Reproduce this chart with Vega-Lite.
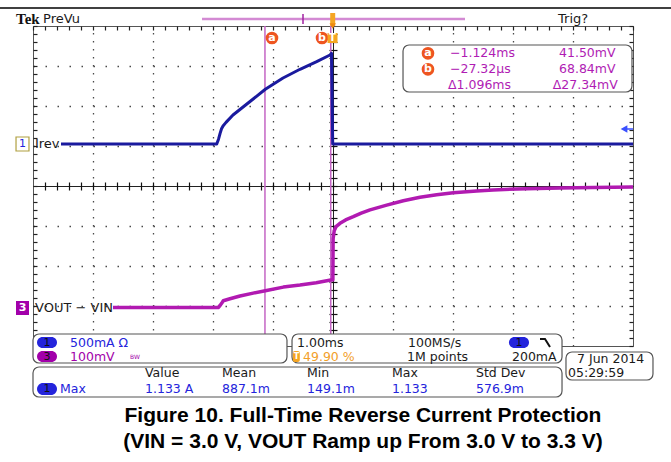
{
  "$schema": "https://vega.github.io/schema/vega-lite/v6.json",
  "width": 600,
  "height": 320,
  "autosize": {"type": "none"},
  "padding": {"left": 33, "top": 26, "right": 38, "bottom": 116},
  "background": "white",
  "config": {
    "view": {"stroke": "#555555", "strokeWidth": 1},
    "text": {"font": "DejaVu Sans", "fontSize": 13}
  },
  "datasets": {
    "irev": [
      {"t": -4.523, "I": 0}, {"t": -1.928, "I": 0}, {"t": -1.898, "I": 0.06}, {"t": -1.873, "I": 0.13},
      {"t": -1.848, "I": 0.19}, {"t": -1.823, "I": 0.225}, {"t": -1.773, "I": 0.27}, {"t": -1.657, "I": 0.3625},
      {"t": -1.373, "I": 0.531}, {"t": -1.118, "I": 0.684}, {"t": -0.823, "I": 0.825}, {"t": -0.54, "I": 0.934},
      {"t": -0.262, "I": 1.029}, {"t": -0.04, "I": 1.1125}, {"t": -0.015, "I": 1.133}, {"t": 0.005, "I": 0},
      {"t": 5.01, "I": 0}
    ],
    "vout": [
      {"t": -3.657, "V": 0}, {"t": -1.902, "V": 0}, {"t": -1.873, "V": 5}, {"t": -1.84, "V": 12},
      {"t": -1.818, "V": 17}, {"t": -1.707, "V": 22}, {"t": -1.54, "V": 28.75}, {"t": -1.32, "V": 36},
      {"t": -1.118, "V": 42}, {"t": -0.818, "V": 51}, {"t": -0.54, "V": 56}, {"t": -0.27, "V": 62},
      {"t": -0.027, "V": 68.84}, {"t": 0.008, "V": 69}, {"t": 0.012, "V": 172}, {"t": 0.03, "V": 192},
      {"t": 0.06, "V": 202}, {"t": 0.127, "V": 210.5}, {"t": 0.22, "V": 219}, {"t": 0.348, "V": 227},
      {"t": 0.48, "V": 236}, {"t": 0.627, "V": 244}, {"t": 0.905, "V": 256}, {"t": 1.182, "V": 267},
      {"t": 1.46, "V": 275.5}, {"t": 1.738, "V": 282}, {"t": 2.015, "V": 287}, {"t": 2.405, "V": 291},
      {"t": 2.677, "V": 294}, {"t": 3.238, "V": 297}, {"t": 3.792, "V": 299}, {"t": 4.343, "V": 300},
      {"t": 5.01, "V": 301}
    ],
    "cursors": [{"cursor": "a", "t": -1.124}, {"cursor": "b", "t": -0.02732}],
    "boxes": [
      {"t": 1.177, "t2": 4.993, "d": 3.525, "d2": 2.35},
      {"t": -4.99, "t2": -0.757, "d": -3.7, "d2": -4.425},
      {"t": -0.673, "t2": 3.827, "d": -3.7, "d2": -4.425},
      {"t": 3.893, "t2": 5.343, "d": -4.15, "d2": -4.85},
      {"t": -4.99, "t2": 3.827, "d": -4.525, "d2": -5.275}
    ],
    "plain": [
      {"label": "PreVu", "t": -4.823, "d": 4.175},
      {"label": "Trig?", "t": 3.76, "d": 4.175},
      {"label": "Irev", "t": -4.957, "d": 1.05},
      {"label": "VOUT − VIN", "t": -4.957, "d": -3.05}
    ],
    "readout": [
      {"label": "1.00ms", "t": -0.59, "d": -3.9125},
      {"label": "100MS/s", "t": 1.26, "d": -3.9125},
      {"label": "1M points", "t": 1.243, "d": -4.2625},
      {"label": "200mA", "t": 2.993, "d": -4.2625},
      {"label": "7 Jun 2014", "t": 4.077, "d": -4.325},
      {"label": "05:29:59", "t": 3.927, "d": -4.675},
      {"label": "Value", "t": -3.123, "d": -4.675},
      {"label": "Mean", "t": -1.84, "d": -4.675},
      {"label": "Min", "t": -0.423, "d": -4.675},
      {"label": "Max", "t": 0.993, "d": -4.675},
      {"label": "Std Dev", "t": 2.393, "d": -4.675}
    ],
    "colored": [
      {"label": "500mA Ω", "t": -4.373, "d": -3.9125, "ch": "ch1"},
      {"label": "100mV", "t": -4.373, "d": -4.2625, "ch": "ch3"},
      {"label": "−1.124ms", "t": 1.96, "d": 3.3175, "ch": "cur"},
      {"label": "−27.32µs", "t": 1.96, "d": 2.9175, "ch": "cur"},
      {"label": "Δ1.096ms", "t": 1.927, "d": 2.525, "ch": "cur"},
      {"label": "41.50mV", "t": 3.777, "d": 3.3175, "ch": "cur"},
      {"label": "68.84mV", "t": 3.777, "d": 2.9175, "ch": "cur"},
      {"label": "Δ27.34mV", "t": 3.672, "d": 2.525, "ch": "cur"},
      {"label": "49.90 %", "t": -0.49, "d": -4.2625, "ch": "trig"},
      {"label": "Max", "t": -4.54, "d": -5.075, "ch": "ch1"},
      {"label": "1.133 A", "t": -3.123, "d": -5.075, "ch": "ch1"},
      {"label": "887.1m", "t": -1.84, "d": -5.075, "ch": "ch1"},
      {"label": "149.1m", "t": -0.423, "d": -5.075, "ch": "ch1"},
      {"label": "1.133", "t": 0.993, "d": -5.075, "ch": "ch1"},
      {"label": "576.9m", "t": 2.393, "d": -5.075, "ch": "ch1"}
    ],
    "bw": [{"label": "BW", "t": -3.373, "d": -4.28, "ch": "ch3"}],
    "pills": [
      {"ch": "ch1", "label": "1", "t": -4.923, "t2": -4.59, "d": -3.775, "d2": -4.05, "tc": -4.757, "dc": -3.9125},
      {"ch": "ch3", "label": "3", "t": -4.923, "t2": -4.59, "d": -4.125, "d2": -4.4, "tc": -4.757, "dc": -4.2625},
      {"ch": "ch1", "label": "1", "t": 2.943, "t2": 3.277, "d": -3.775, "d2": -4.05, "tc": 3.11, "dc": -3.9125},
      {"ch": "ch1", "label": "1", "t": -4.923, "t2": -4.59, "d": -4.925, "d2": -5.225, "tc": -4.757, "dc": -5.075}
    ],
    "trigbox": [{"label": "T", "t": -0.66, "t2": -0.543, "d": -4.125, "d2": -4.4, "tc": -0.6, "dc": -4.2625}],
    "cursorTags": [
      {"label": "a", "t": -1.007, "d": 3.7},
      {"label": "b", "t": -0.173, "d": 3.7},
      {"label": "a", "t": 1.593, "d": 3.3175},
      {"label": "b", "t": 1.593, "d": 2.9175}
    ],
    "trigTag": [{"label": "T", "t": 0.002, "d": 3.7}],
    "pageLine": [{"t": -5.54, "t2": 5.645, "d": 4.45}],
    "recordBar": [{"t": -2.173, "t2": 2.21, "d": 4.175}],
    "recordTick": [{"t": -0.49, "d": 4.3, "d2": 4.05}],
    "trigMark": [{"t": 0.005, "d": 4.325, "d2": 4.0}],
    "ch1Marker": [{"label": "1", "t": -5.273, "t2": -5.057, "d": 1.225, "d2": 0.875, "tc": -5.165, "dc": 1.05}],
    "ch3Marker": [{"label": "3", "t": -5.273, "t2": -5.057, "d": -2.875, "d2": -3.225, "tc": -5.165, "dc": -3.05}],
    "slope": [{"t": 3.46, "d": -3.825}, {"t": 3.543, "d": -3.825}, {"t": 3.627, "d": -4.025}],
    "trigLevel": [{"t": 4.86, "t2": 5.01, "d": 1.425}],
    "logo": [{"label": "Tek", "t": -5.273, "d": 4.175}],
    "caption": [
      {"label": "Figure 10. Full-Time Reverse Current Protection", "t": 0.51, "d": -5.75},
      {"label": "(VIN = 3.0 V, VOUT Ramp up From 3.0 V to 3.3 V)", "t": 0.51, "d": -6.4}
    ]
  },
  "resolve": {"scale": {"y": "independent"}, "axis": {"x": "independent", "y": "independent"}},
  "layer": [
    {
      "data": {"name": "cursors"},
      "mark": {"type": "rule", "color": "#c465c4", "strokeWidth": 1.5},
      "encoding": {
        "x": {"field": "t", "type": "quantitative", "scale": {"domain": [-4.99, 5.01], "nice": false, "zero": false},
          "axis": {"orient": "bottom", "values": [-3.99, -2.99, -1.99, -0.99, 1.01, 2.01, 3.01, 4.01],
            "grid": true, "ticks": false, "labels": false, "domain": false, "title": null,
            "gridWidth": 1.3, "gridOpacity": 1, "gridColor": "#4a4a4a", "gridDash": [1.5, 6.5]}}
      }
    },
    {
      "data": {"name": "irev"},
      "mark": {"type": "line", "color": "#1a1a9e", "strokeWidth": 3, "strokeJoin": "round"},
      "encoding": {
        "x": {"field": "t", "type": "quantitative", "scale": {"domain": [-4.99, 5.01], "nice": false, "zero": false},
          "axis": {"orient": "top", "offset": -4, "tickSize": 4, "tickWidth": 1.2, "tickColor": "#222222", "tickOpacity": 1, "ticks": true, "grid": false, "labels": false, "domain": false, "title": null,
            "values": [-4.99,-4.79,-4.59,-4.39,-4.19,-3.99,-3.79,-3.59,-3.39,-3.19,-2.99,-2.79,-2.59,-2.39,-2.19,-1.99,-1.79,-1.59,-1.39,-1.19,-0.99,-0.79,-0.59,-0.39,-0.19,0.01,0.21,0.41,0.61,0.81,1.01,1.21,1.41,1.61,1.81,2.01,2.21,2.41,2.61,2.81,3.01,3.21,3.41,3.61,3.81,4.01,4.21,4.41,4.61,4.81,5.01]}},
        "y": {"field": "I", "type": "quantitative", "scale": {"domain": [-2.525, 1.475], "nice": false, "zero": false},
          "axis": {"orient": "left", "values": [0.975, 0.475, -0.025, -1.025, -1.525, -2.025],
            "grid": true, "ticks": false, "labels": false, "domain": false, "title": null,
            "gridWidth": 1.3, "gridOpacity": 1, "gridColor": "#4a4a4a", "gridDash": [1.5, 10.5]}}
      }
    },
    {
      "data": {"name": "vout"},
      "mark": {"type": "line", "color": "#b11ab1", "strokeWidth": 3.5, "strokeJoin": "round"},
      "encoding": {
        "x": {"field": "t", "type": "quantitative", "scale": {"domain": [-4.99, 5.01], "nice": false, "zero": false},
          "axis": {"orient": "bottom", "offset": -164, "tickSize": 8, "tickWidth": 1.2, "tickColor": "#111111", "tickOpacity": 1, "ticks": true, "grid": false, "labels": false, "domain": false, "title": null,
            "values": [-4.79,-4.59,-4.39,-4.19,-3.99,-3.79,-3.59,-3.39,-3.19,-2.99,-2.79,-2.59,-2.39,-2.19,-1.99,-1.79,-1.59,-1.39,-1.19,-0.99,-0.79,-0.59,-0.39,-0.19,0.01,0.21,0.41,0.61,0.81,1.01,1.21,1.41,1.61,1.81,2.01,2.21,2.41,2.61,2.81,3.01,3.21,3.41,3.61,3.81,4.01,4.21,4.41,4.61,4.81]}},
        "y": {"field": "V", "type": "quantitative", "scale": {"domain": [-96.25, 703.75], "nice": false, "zero": false}, "axis": null}
      }
    },
    {
      "data": {"name": "boxes"},
      "mark": {"type": "rect", "fill": "white", "stroke": "#555555", "strokeWidth": 1.2, "cornerRadius": 6},
      "encoding": {
        "x": {"field": "t", "type": "quantitative", "scale": {"domain": [-4.99, 5.01], "nice": false, "zero": false}, "axis": null},
        "x2": {"field": "t2"},
        "y": {"field": "d", "type": "quantitative", "scale": {"domain": [-4, 4], "nice": false, "zero": false},
          "axis": {"orient": "left", "offset": -4, "tickSize": 4, "tickWidth": 1.2, "tickColor": "#222222", "tickOpacity": 1, "ticks": true, "grid": false, "labels": false, "domain": false, "title": null,
            "values": [-4,-3.8,-3.6,-3.4,-3.2,-3,-2.8,-2.6,-2.4,-2.2,-2,-1.8,-1.6,-1.4,-1.2,-1,-0.8,-0.6,-0.4,-0.2,0,0.2,0.4,0.6,0.8,1,1.2,1.4,1.6,1.8,2,2.2,2.4,2.6,2.8,3,3.2,3.4,3.6,3.8,4]}},
        "y2": {"field": "d2"}
      }
    },
    {
      "data": {"name": "plain"},
      "mark": {"type": "text", "align": "left", "baseline": "middle", "color": "#1a1a1a", "font": "DejaVu Sans", "fontSize": 13},
      "encoding": {
        "x": {"field": "t", "type": "quantitative", "scale": {"domain": [-4.99, 5.01], "nice": false, "zero": false}, "axis": null},
        "y": {"field": "d", "type": "quantitative", "scale": {"domain": [-4, 4], "nice": false, "zero": false},
          "axis": {"orient": "right", "offset": -4, "tickSize": 4, "tickWidth": 1.2, "tickColor": "#222222", "tickOpacity": 1, "ticks": true, "grid": false, "labels": false, "domain": false, "title": null,
            "values": [-4,-3.8,-3.6,-3.4,-3.2,-3,-2.8,-2.6,-2.4,-2.2,-2,-1.8,-1.6,-1.4,-1.2,-1,-0.8,-0.6,-0.4,-0.2,0,0.2,0.4,0.6,0.8,1,1.2,1.4,1.6,1.8,2,2.2,2.4,2.6,2.8,3,3.2,3.4,3.6,3.8,4]}},
        "text": {"field": "label"}
      }
    },
    {
      "data": {"name": "readout"},
      "mark": {"type": "text", "align": "left", "baseline": "middle", "color": "#1a1a1a", "font": "DejaVu Sans", "fontSize": 12.5},
      "encoding": {
        "x": {"field": "t", "type": "quantitative", "scale": {"domain": [-4.99, 5.01], "nice": false, "zero": false},
          "axis": {"orient": "bottom", "values": [0.01], "grid": true, "ticks": false, "labels": false, "domain": false, "title": null,
            "gridWidth": 1, "gridOpacity": 1, "gridColor": "#222222"}},
        "y": {"field": "d", "type": "quantitative", "scale": {"domain": [-4, 4], "nice": false, "zero": false},
          "axis": {"orient": "left", "values": [0], "grid": true, "ticks": false, "labels": false, "domain": false, "title": null,
            "gridWidth": 1, "gridOpacity": 1, "gridColor": "#222222"}},
        "text": {"field": "label"}
      }
    },
    {
      "data": {"name": "colored"},
      "mark": {"type": "text", "align": "left", "baseline": "middle", "font": "DejaVu Sans", "fontSize": 12.5},
      "encoding": {
        "x": {"field": "t", "type": "quantitative", "scale": {"domain": [-4.99, 5.01], "nice": false, "zero": false}, "axis": null},
        "y": {"field": "d", "type": "quantitative", "scale": {"domain": [-4, 4], "nice": false, "zero": false},
          "axis": {"orient": "right", "offset": -304, "tickSize": 8, "tickWidth": 1.2, "tickColor": "#111111", "tickOpacity": 1, "ticks": true, "grid": false, "labels": false, "domain": false, "title": null,
            "values": [-3.8,-3.6,-3.4,-3.2,-3,-2.8,-2.6,-2.4,-2.2,-2,-1.8,-1.6,-1.4,-1.2,-1,-0.8,-0.6,-0.4,-0.2,0,0.2,0.4,0.6,0.8,1,1.2,1.4,1.6,1.8,2,2.2,2.4,2.6,2.8,3,3.2,3.4,3.6,3.8]}},
        "color": {"field": "ch", "type": "nominal", "scale": {"domain": ["ch1", "ch3", "cur", "trig"], "range": ["#2424dc", "#a200aa", "#b01cb4", "#f2a02a"]}, "legend": null},
        "text": {"field": "label"}
      }
    },
    {
      "data": {"name": "bw"},
      "mark": {"type": "text", "align": "left", "baseline": "middle", "font": "DejaVu Sans", "fontSize": 6},
      "encoding": {
        "x": {"field": "t", "type": "quantitative", "scale": {"domain": [-4.99, 5.01], "nice": false, "zero": false}, "axis": null},
        "y": {"field": "d", "type": "quantitative", "scale": {"domain": [-4, 4], "nice": false, "zero": false}, "axis": null},
        "color": {"field": "ch", "type": "nominal", "scale": {"domain": ["ch1", "ch3", "cur", "trig"], "range": ["#2424dc", "#a200aa", "#b01cb4", "#f2a02a"]}, "legend": null},
        "text": {"field": "label"}
      }
    },
    {
      "data": {"name": "pills"},
      "mark": {"type": "rect", "cornerRadius": 6},
      "encoding": {
        "x": {"field": "t", "type": "quantitative", "scale": {"domain": [-4.99, 5.01], "nice": false, "zero": false}, "axis": null},
        "x2": {"field": "t2"},
        "y": {"field": "d", "type": "quantitative", "scale": {"domain": [-4, 4], "nice": false, "zero": false}, "axis": null},
        "y2": {"field": "d2"},
        "color": {"field": "ch", "type": "nominal", "scale": {"domain": ["ch1", "ch3", "cur", "trig"], "range": ["#2424dc", "#a200aa", "#b01cb4", "#f2a02a"]}, "legend": null}
      }
    },
    {
      "data": {"name": "pills"},
      "mark": {"type": "text", "align": "center", "baseline": "middle", "color": "#111111", "font": "DejaVu Sans", "fontSize": 11},
      "encoding": {
        "x": {"field": "tc", "type": "quantitative", "scale": {"domain": [-4.99, 5.01], "nice": false, "zero": false}, "axis": null},
        "y": {"field": "dc", "type": "quantitative", "scale": {"domain": [-4, 4], "nice": false, "zero": false}, "axis": null},
        "text": {"field": "label"}
      }
    },
    {
      "data": {"name": "trigbox"},
      "mark": {"type": "rect", "cornerRadius": 2, "color": "#f5a623"},
      "encoding": {
        "x": {"field": "t", "type": "quantitative", "scale": {"domain": [-4.99, 5.01], "nice": false, "zero": false}, "axis": null},
        "x2": {"field": "t2"},
        "y": {"field": "d", "type": "quantitative", "scale": {"domain": [-4, 4], "nice": false, "zero": false}, "axis": null},
        "y2": {"field": "d2"}
      }
    },
    {
      "data": {"name": "trigbox"},
      "mark": {"type": "text", "align": "center", "baseline": "middle", "color": "white", "font": "DejaVu Sans", "fontSize": 8, "fontWeight": "bold"},
      "encoding": {
        "x": {"field": "tc", "type": "quantitative", "scale": {"domain": [-4.99, 5.01], "nice": false, "zero": false}, "axis": null},
        "y": {"field": "dc", "type": "quantitative", "scale": {"domain": [-4, 4], "nice": false, "zero": false}, "axis": null},
        "text": {"field": "label"}
      }
    },
    {
      "data": {"name": "pageLine"},
      "mark": {"type": "rule", "color": "#000000", "strokeWidth": 1.5},
      "encoding": {
        "x": {"field": "t", "type": "quantitative", "scale": {"domain": [-4.99, 5.01], "nice": false, "zero": false}, "axis": null},
        "x2": {"field": "t2"},
        "y": {"field": "d", "type": "quantitative", "scale": {"domain": [-4, 4], "nice": false, "zero": false}, "axis": null}
      }
    },
    {
      "data": {"name": "recordBar"},
      "mark": {"type": "rule", "color": "#d38ad3", "strokeWidth": 2.5},
      "encoding": {
        "x": {"field": "t", "type": "quantitative", "scale": {"domain": [-4.99, 5.01], "nice": false, "zero": false}, "axis": null},
        "x2": {"field": "t2"},
        "y": {"field": "d", "type": "quantitative", "scale": {"domain": [-4, 4], "nice": false, "zero": false}, "axis": null}
      }
    },
    {
      "data": {"name": "recordTick"},
      "mark": {"type": "rule", "color": "#a020a0", "strokeWidth": 1.5},
      "encoding": {
        "x": {"field": "t", "type": "quantitative", "scale": {"domain": [-4.99, 5.01], "nice": false, "zero": false}, "axis": null},
        "y": {"field": "d", "type": "quantitative", "scale": {"domain": [-4, 4], "nice": false, "zero": false}, "axis": null},
        "y2": {"field": "d2"}
      }
    },
    {
      "data": {"name": "trigMark"},
      "mark": {"type": "rule", "color": "#f5a623", "strokeWidth": 5},
      "encoding": {
        "x": {"field": "t", "type": "quantitative", "scale": {"domain": [-4.99, 5.01], "nice": false, "zero": false}, "axis": null},
        "y": {"field": "d", "type": "quantitative", "scale": {"domain": [-4, 4], "nice": false, "zero": false}, "axis": null},
        "y2": {"field": "d2"}
      }
    },
    {
      "data": {"name": "trigMark"},
      "mark": {"type": "point", "shape": "triangle-down", "filled": true, "color": "#f08a10", "size": 40, "opacity": 1},
      "encoding": {
        "x": {"field": "t", "type": "quantitative", "scale": {"domain": [-4.99, 5.01], "nice": false, "zero": false}, "axis": null},
        "y": {"field": "d2", "type": "quantitative", "scale": {"domain": [-4, 4], "nice": false, "zero": false}, "axis": null}
      }
    },
    {
      "data": {"name": "cursorTags"},
      "mark": {"type": "point", "shape": "circle", "filled": true, "color": "#ee5520", "size": 160, "opacity": 1},
      "encoding": {
        "x": {"field": "t", "type": "quantitative", "scale": {"domain": [-4.99, 5.01], "nice": false, "zero": false}, "axis": null},
        "y": {"field": "d", "type": "quantitative", "scale": {"domain": [-4, 4], "nice": false, "zero": false}, "axis": null}
      }
    },
    {
      "data": {"name": "cursorTags"},
      "mark": {"type": "text", "align": "center", "baseline": "middle", "color": "white", "font": "DejaVu Sans", "fontSize": 11, "fontWeight": "bold"},
      "encoding": {
        "x": {"field": "t", "type": "quantitative", "scale": {"domain": [-4.99, 5.01], "nice": false, "zero": false}, "axis": null},
        "y": {"field": "d", "type": "quantitative", "scale": {"domain": [-4, 4], "nice": false, "zero": false}, "axis": null},
        "text": {"field": "label"}
      }
    },
    {
      "data": {"name": "trigTag"},
      "mark": {"type": "point", "shape": "square", "filled": true, "color": "#f5a623", "size": 100, "opacity": 1},
      "encoding": {
        "x": {"field": "t", "type": "quantitative", "scale": {"domain": [-4.99, 5.01], "nice": false, "zero": false}, "axis": null},
        "y": {"field": "d", "type": "quantitative", "scale": {"domain": [-4, 4], "nice": false, "zero": false}, "axis": null}
      }
    },
    {
      "data": {"name": "trigTag"},
      "mark": {"type": "text", "align": "center", "baseline": "middle", "color": "white", "font": "DejaVu Sans", "fontSize": 10, "fontWeight": "bold"},
      "encoding": {
        "x": {"field": "t", "type": "quantitative", "scale": {"domain": [-4.99, 5.01], "nice": false, "zero": false}, "axis": null},
        "y": {"field": "d", "type": "quantitative", "scale": {"domain": [-4, 4], "nice": false, "zero": false}, "axis": null},
        "text": {"field": "label"}
      }
    },
    {
      "data": {"name": "ch1Marker"},
      "mark": {"type": "rect", "fill": "white", "stroke": "#b0a040", "strokeWidth": 1.2},
      "encoding": {
        "x": {"field": "t", "type": "quantitative", "scale": {"domain": [-4.99, 5.01], "nice": false, "zero": false}, "axis": null},
        "x2": {"field": "t2"},
        "y": {"field": "d", "type": "quantitative", "scale": {"domain": [-4, 4], "nice": false, "zero": false}, "axis": null},
        "y2": {"field": "d2"}
      }
    },
    {
      "data": {"name": "ch1Marker"},
      "mark": {"type": "text", "align": "center", "baseline": "middle", "color": "#2424dc", "font": "DejaVu Sans", "fontSize": 11},
      "encoding": {
        "x": {"field": "tc", "type": "quantitative", "scale": {"domain": [-4.99, 5.01], "nice": false, "zero": false}, "axis": null},
        "y": {"field": "dc", "type": "quantitative", "scale": {"domain": [-4, 4], "nice": false, "zero": false}, "axis": null},
        "text": {"field": "label"}
      }
    },
    {
      "data": {"name": "ch3Marker"},
      "mark": {"type": "rect", "fill": "#a200aa"},
      "encoding": {
        "x": {"field": "t", "type": "quantitative", "scale": {"domain": [-4.99, 5.01], "nice": false, "zero": false}, "axis": null},
        "x2": {"field": "t2"},
        "y": {"field": "d", "type": "quantitative", "scale": {"domain": [-4, 4], "nice": false, "zero": false}, "axis": null},
        "y2": {"field": "d2"}
      }
    },
    {
      "data": {"name": "ch3Marker"},
      "mark": {"type": "text", "align": "center", "baseline": "middle", "color": "white", "font": "DejaVu Sans", "fontSize": 11, "fontWeight": "bold"},
      "encoding": {
        "x": {"field": "tc", "type": "quantitative", "scale": {"domain": [-4.99, 5.01], "nice": false, "zero": false}, "axis": null},
        "y": {"field": "dc", "type": "quantitative", "scale": {"domain": [-4, 4], "nice": false, "zero": false}, "axis": null},
        "text": {"field": "label"}
      }
    },
    {
      "data": {"name": "slope"},
      "mark": {"type": "line", "color": "#111111", "strokeWidth": 2},
      "encoding": {
        "x": {"field": "t", "type": "quantitative", "scale": {"domain": [-4.99, 5.01], "nice": false, "zero": false}, "axis": null},
        "y": {"field": "d", "type": "quantitative", "scale": {"domain": [-4, 4], "nice": false, "zero": false}, "axis": null}
      }
    },
    {
      "data": {"name": "trigLevel"},
      "mark": {"type": "rule", "color": "#3a50ff", "strokeWidth": 1.5},
      "encoding": {
        "x": {"field": "t", "type": "quantitative", "scale": {"domain": [-4.99, 5.01], "nice": false, "zero": false}, "axis": null},
        "x2": {"field": "t2"},
        "y": {"field": "d", "type": "quantitative", "scale": {"domain": [-4, 4], "nice": false, "zero": false}, "axis": null}
      }
    },
    {
      "data": {"name": "trigLevel"},
      "mark": {"type": "point", "shape": "triangle-left", "filled": true, "color": "#3a50ff", "size": 60, "opacity": 1},
      "encoding": {
        "x": {"field": "t", "type": "quantitative", "scale": {"domain": [-4.99, 5.01], "nice": false, "zero": false}, "axis": null},
        "y": {"field": "d", "type": "quantitative", "scale": {"domain": [-4, 4], "nice": false, "zero": false}, "axis": null}
      }
    },
    {
      "data": {"name": "logo"},
      "mark": {"type": "text", "align": "left", "baseline": "middle", "color": "#111111", "font": "Liberation Serif", "fontSize": 15, "fontWeight": "bold"},
      "encoding": {
        "x": {"field": "t", "type": "quantitative", "scale": {"domain": [-4.99, 5.01], "nice": false, "zero": false}, "axis": null},
        "y": {"field": "d", "type": "quantitative", "scale": {"domain": [-4, 4], "nice": false, "zero": false}, "axis": null},
        "text": {"field": "label"}
      }
    },
    {
      "data": {"name": "caption"},
      "mark": {"type": "text", "align": "center", "baseline": "middle", "color": "#000000", "font": "Liberation Sans", "fontSize": 21, "fontWeight": "bold"},
      "encoding": {
        "x": {"field": "t", "type": "quantitative", "scale": {"domain": [-4.99, 5.01], "nice": false, "zero": false}, "axis": null},
        "y": {"field": "d", "type": "quantitative", "scale": {"domain": [-4, 4], "nice": false, "zero": false}, "axis": null},
        "text": {"field": "label"}
      }
    }
  ]
}
